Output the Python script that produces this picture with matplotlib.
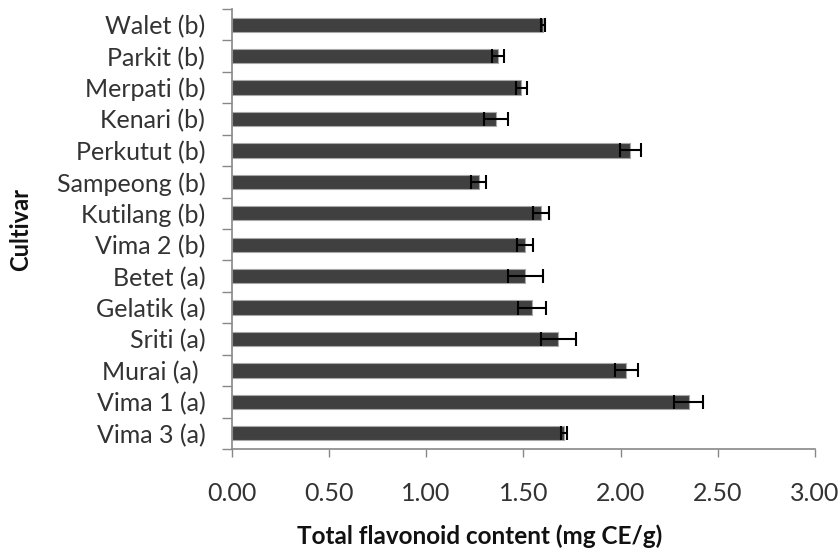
import matplotlib
matplotlib.use("Agg")
import matplotlib.pyplot as plt
import numpy as np

cultivars = ["Walet (b)", "Parkit (b)", "Merpati (b)", "Kenari (b)", "Perkutut (b)",
             "Sampeong (b)", "Kutilang (b)", "Vima 2 (b)", "Betet (a)", "Gelatik (a)",
             "Sriti (a)", "Murai (a) ", "Vima 1 (a)", "Vima 3 (a)"]
flavonoid = [1.60, 1.37, 1.49, 1.36, 2.05, 1.27, 1.59, 1.51, 1.51, 1.545, 1.68, 2.03, 2.35, 1.71]
errors = [0.01, 0.03, 0.03, 0.06, 0.055, 0.04, 0.04, 0.04, 0.09, 0.07, 0.09, 0.06, 0.075, 0.015]
xticks = [0.0, 0.5, 1.0, 1.5, 2.0, 2.5, 3.0]
xticklabels = ["0.00", "0.50", "1.00", "1.50", "2.00", "2.50", "3.00"]

plt.rcParams['font.family'] = ['Lato', 'DejaVu Sans']

fig = plt.figure(figsize=(8.4, 5.5), dpi=100)
ax = fig.add_axes([0.2758, 0.1836, 0.6944, 0.8])

y = np.arange(len(cultivars))
ax.barh(y, flavonoid, height=0.455, color="#404040", edgecolor="#a8a8a8", linewidth=0.8,
        xerr=errors, error_kw=dict(ecolor="black", elinewidth=1.5, capsize=4.7, capthick=1.5))

ax.set_xlim(0, 3.0)
ax.set_ylim(len(cultivars) - 0.5, -0.5)
ax.set_yticks(y)
ax.set_yticklabels(cultivars, fontsize=18, color="#333333")
ax.set_yticks(np.arange(-0.5, len(cultivars), 1.0), minor=True)
ax.tick_params(axis='y', which='major', length=0, pad=19)
ax.tick_params(axis='y', which='minor', length=7, color="#888888", direction='out', width=1)
ax.set_xticks(xticks)
ax.set_xticklabels(xticklabels, fontsize=18, color="#333333")
ax.tick_params(axis='x', length=6, color="#888888", direction='out', width=1, pad=18)

for s in ['top', 'right']:
    ax.spines[s].set_visible(False)
for s in ['left', 'bottom']:
    ax.spines[s].set_color("#888888")
    ax.spines[s].set_linewidth(1.2)

fig.text(0.5714, 0.004, "Total flavonoid content (mg CE/g)", fontsize=17.5, fontweight='bold',
         ha='center', va='bottom', color="#111111")
fig.text(0.024, 0.582, "Cultivar", fontsize=17, fontweight='bold', rotation=90,
         ha='center', va='center', color="#111111")

fig.savefig("out.png", dpi=100)
